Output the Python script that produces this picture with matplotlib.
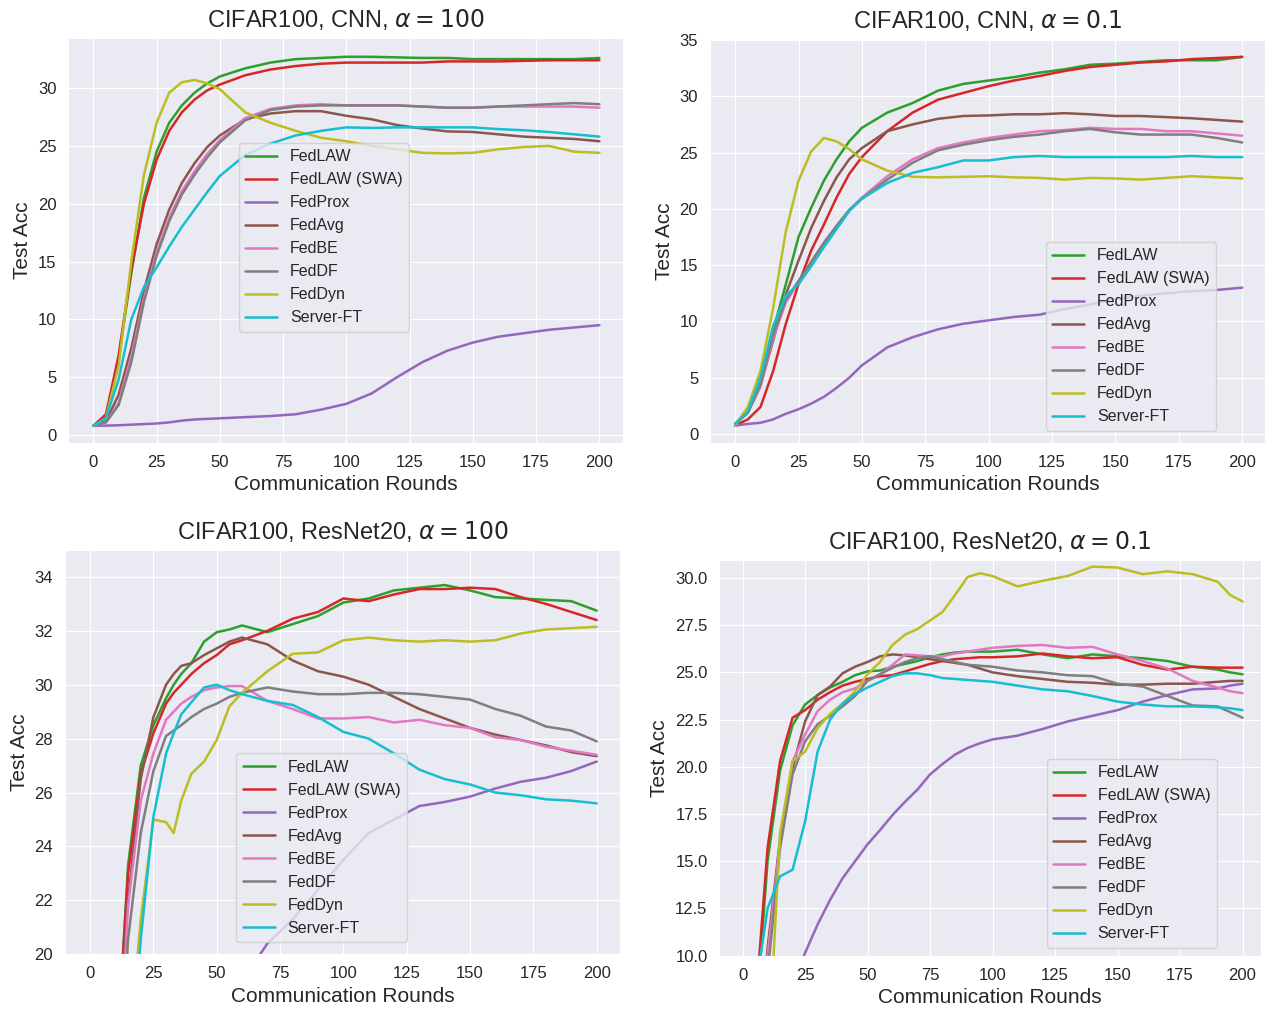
import matplotlib
matplotlib.use("Agg")
from matplotlib import pyplot as plt
import numpy as np
import seaborn as sns

sns.set_style("darkgrid")
plt.rcParams["font.family"] = ["Liberation Sans", "DejaVu Sans"]

METHODS = ["FedLAW", "FedLAW (SWA)", "FedProx", "FedAvg",
           "FedBE", "FedDF", "FedDyn", "Server-FT"]
COLORS = ["tab:green", "tab:red", "tab:purple", "tab:brown",
          "tab:pink", "tab:gray", "tab:olive", "tab:cyan"]

# CIFAR100, CNN, alpha = 100
rounds_cnn_100 = [0, 5, 10, 15, 20, 25, 30, 35, 40, 45, 50, 60, 70, 80, 90,
                  100, 110, 120, 130, 140, 150, 160, 170, 180, 190, 200]
fedlaw_cnn_100 = [0.8, 1.7, 6.6, 14.0, 20.5, 24.5, 27.0, 28.5, 29.6, 30.4, 31.0, 31.7, 32.2,
                  32.5, 32.6, 32.7, 32.7, 32.65, 32.6, 32.6, 32.5, 32.5, 32.5, 32.5, 32.5, 32.6]
swa_cnn_100 = [0.8, 1.8, 6.9, 14.3, 20.0, 23.8, 26.3, 27.9, 29.0, 29.8, 30.3, 31.1, 31.6,
               31.9, 32.1, 32.2, 32.2, 32.2, 32.2, 32.3, 32.3, 32.3, 32.35, 32.4, 32.4, 32.4]
prox_cnn_100 = [0.8, 0.82, 0.85, 0.9, 0.95, 1.0, 1.1, 1.25, 1.35, 1.4, 1.45, 1.55, 1.65,
                1.8, 2.2, 2.7, 3.6, 5.0, 6.3, 7.3, 8.0, 8.5, 8.8, 9.1, 9.3, 9.5]
avg_cnn_100 = [0.8, 1.2, 3.5, 7.5, 12.5, 16.5, 19.5, 21.8, 23.5, 24.9, 25.9, 27.3, 27.8,
               28.0, 28.0, 27.6, 27.3, 26.8, 26.5, 26.25, 26.2, 26.0, 25.8, 25.7, 25.6, 25.4]
be_cnn_100 = [0.8, 1.1, 2.8, 6.8, 11.8, 15.8, 18.8, 21.1, 22.8, 24.3, 25.5, 27.4, 28.2,
              28.5, 28.6, 28.5, 28.5, 28.5, 28.4, 28.3, 28.3, 28.4, 28.4, 28.4, 28.4, 28.3]
df_cnn_100 = [0.8, 1.1, 2.6, 6.3, 11.5, 15.5, 18.5, 20.8, 22.5, 24.0, 25.3, 27.2, 28.1,
              28.4, 28.5, 28.5, 28.5, 28.5, 28.4, 28.3, 28.3, 28.4, 28.5, 28.6, 28.7, 28.6]
dyn_cnn_100 = [0.8, 1.5, 6.0, 15.0, 22.5, 27.0, 29.6, 30.5, 30.7, 30.4, 29.9, 27.9, 27.0,
               26.3, 25.7, 25.4, 25.0, 24.7, 24.4, 24.35, 24.4, 24.7, 24.9, 25.0, 24.5, 24.4]
ft_cnn_100 = [0.8, 1.5, 4.8, 10.0, 12.8, 14.5, 16.3, 18.0, 19.5, 21.0, 22.4, 24.2, 25.2,
              25.9, 26.3, 26.6, 26.55, 26.6, 26.6, 26.6, 26.6, 26.45, 26.35, 26.2, 26.0, 25.8]

# CIFAR100, CNN, alpha = 0.1
rounds_cnn_01 = [0, 5, 10, 15, 20, 25, 30, 35, 40, 45, 50, 60, 70, 80, 90,
                 100, 110, 120, 130, 140, 150, 160, 170, 180, 190, 200]
fedlaw_cnn_01 = [0.9, 1.9, 4.4, 9.2, 13.3, 17.5, 20.1, 22.5, 24.4, 26.0, 27.2, 28.55, 29.4,
                 30.5, 31.1, 31.4, 31.7, 32.1, 32.4, 32.8, 32.9, 33.05, 33.2, 33.2, 33.2, 33.5]
swa_cnn_01 = [0.75, 1.3, 2.4, 5.6, 9.8, 13.3, 16.3, 18.6, 21.0, 23.1, 24.6, 26.9, 28.55,
              29.7, 30.3, 30.9, 31.4, 31.8, 32.25, 32.6, 32.8, 33.0, 33.1, 33.3, 33.4, 33.5]
prox_cnn_01 = [0.75, 0.9, 1.0, 1.3, 1.8, 2.2, 2.7, 3.3, 4.1, 5.0, 6.1, 7.7, 8.6,
               9.3, 9.8, 10.1, 10.4, 10.6, 11.1, 11.5, 12.0, 12.3, 12.5, 12.7, 12.8, 13.0]
avg_cnn_01 = [0.75, 2.1, 4.4, 8.3, 12.4, 15.4, 18.3, 20.7, 22.8, 24.4, 25.4, 26.9, 27.5,
              28.0, 28.25, 28.3, 28.4, 28.4, 28.5, 28.4, 28.25, 28.25, 28.15, 28.05, 27.9, 27.75]
be_cnn_01 = [0.9, 1.9, 4.2, 8.5, 11.7, 13.5, 15.2, 16.9, 18.4, 19.9, 21.0, 22.9, 24.4,
             25.4, 25.9, 26.3, 26.6, 26.9, 27.0, 27.2, 27.1, 27.1, 26.9, 26.9, 26.7, 26.5]
df_cnn_01 = [0.9, 1.9, 4.4, 8.8, 11.9, 13.6, 15.3, 17.0, 18.5, 19.9, 20.9, 22.6, 24.1,
             25.2, 25.7, 26.1, 26.4, 26.6, 26.9, 27.1, 26.8, 26.6, 26.6, 26.6, 26.3, 25.9]
dyn_cnn_01 = [0.75, 2.4, 5.6, 11.2, 18.0, 22.5, 25.1, 26.3, 26.0, 25.3, 24.4, 23.4, 22.85,
              22.8, 22.85, 22.9, 22.8, 22.75, 22.6, 22.75, 22.7, 22.6, 22.75, 22.9, 22.8, 22.7]
ft_cnn_01 = [0.9, 2.0, 5.0, 9.6, 12.3, 13.3, 14.9, 16.6, 18.2, 19.8, 20.9, 22.3, 23.2,
             23.7, 24.3, 24.3, 24.6, 24.7, 24.6, 24.6, 24.6, 24.6, 24.6, 24.7, 24.6, 24.6]

# CIFAR100, ResNet20, alpha = 100
rounds_res_100 = [0, 5, 10, 15, 20, 25, 30, 33, 36, 40, 45, 50, 55, 60, 70, 80, 90,
                  100, 110, 120, 130, 140, 150, 160, 170, 180, 190, 200]
fedlaw_res_100 = [1.0, 5.0, 15.0, 23.3, 27.0, 28.5, 29.5, 30.0, 30.4, 30.8, 31.6, 31.95, 32.05,
                  32.2, 31.95, 32.25, 32.55, 33.05, 33.2, 33.5, 33.6, 33.7, 33.5, 33.25, 33.2,
                  33.15, 33.1, 32.75]
swa_res_100 = [1.0, 5.0, 15.5, 23.0, 26.7, 28.2, 29.3, 29.7, 30.0, 30.4, 30.8, 31.1, 31.5,
               31.65, 32.0, 32.45, 32.7, 33.2, 33.1, 33.35, 33.55, 33.55, 33.6, 33.55, 33.25,
               33.0, 32.7, 32.4]
prox_res_100 = [1.0, 3.0, 5.0, 7.0, 9.0, 10.5, 12.0, 12.8, 13.6, 14.8, 16.0, 17.0, 18.0,
                19.0, 20.4, 21.3, 22.4, 23.5, 24.5, 25.0, 25.5, 25.65, 25.85, 26.15, 26.4,
                26.55, 26.8, 27.15]
avg_res_100 = [1.0, 5.5, 15.5, 22.0, 26.5, 28.8, 30.0, 30.4, 30.7, 30.8, 31.1, 31.35, 31.6,
               31.75, 31.5, 30.9, 30.5, 30.3, 30.0, 29.55, 29.1, 28.75, 28.4, 28.15, 27.95,
               27.75, 27.5, 27.35]
be_res_100 = [1.0, 5.0, 13.5, 21.8, 25.7, 27.45, 28.7, 29.0, 29.3, 29.55, 29.8, 29.9, 29.95,
              29.95, 29.4, 29.1, 28.75, 28.75, 28.8, 28.6, 28.7, 28.5, 28.4, 28.05, 27.95,
              27.7, 27.55, 27.4]
df_res_100 = [1.0, 4.5, 12.5, 20.55, 24.5, 26.8, 28.1, 28.3, 28.5, 28.8, 29.1, 29.3, 29.55,
              29.7, 29.9, 29.75, 29.65, 29.65, 29.7, 29.7, 29.65, 29.55, 29.45, 29.1, 28.85,
              28.45, 28.3, 27.9]
dyn_res_100 = [1.0, 3.0, 8.0, 16.0, 21.3, 25.0, 24.9, 24.5, 25.7, 26.7, 27.15, 27.95, 29.2,
               29.7, 30.5, 31.15, 31.2, 31.65, 31.75, 31.65, 31.6, 31.65, 31.6, 31.65, 31.9,
               32.05, 32.1, 32.15]
ft_res_100 = [1.0, 2.5, 6.0, 14.0, 20.55, 25.1, 27.45, 28.2, 28.9, 29.35, 29.9, 30.0, 29.8,
              29.65, 29.4, 29.25, 28.8, 28.25, 28.0, 27.45, 26.85, 26.5, 26.3, 26.0, 25.9,
              25.75, 25.7, 25.6]

# CIFAR100, ResNet20, alpha = 0.1
rounds_res_01 = [0, 5, 10, 15, 20, 25, 30, 35, 40, 45, 50, 55, 60, 65, 70, 75, 80, 85, 90,
                 95, 100, 110, 120, 130, 140, 150, 160, 170, 180, 190, 195, 200]
fedlaw_res_01 = [1.0, 6.0, 15.0, 19.8, 22.2, 23.3, 23.8, 24.2, 24.5, 24.85, 25.05, 25.1, 25.3,
                 25.45, 25.6, 25.8, 25.95, 26.05, 26.1, 26.1, 26.1, 26.2, 25.95, 25.75, 25.95,
                 25.85, 25.75, 25.6, 25.3, 25.15, 25.0, 24.9]
swa_res_01 = [1.0, 7.0, 15.7, 20.3, 22.6, 23.0, 23.55, 23.95, 24.3, 24.5, 24.65, 24.8, 24.85,
              25.05, 25.25, 25.45, 25.6, 25.7, 25.75, 25.8, 25.8, 25.85, 26.0, 25.85, 25.75,
              25.8, 25.4, 25.15, 25.3, 25.25, 25.25, 25.25]
prox_res_01 = [1.0, 2.5, 4.5, 6.0, 8.5, 10.15, 11.65, 12.95, 14.1, 15.0, 15.9, 16.65, 17.45,
               18.15, 18.8, 19.6, 20.15, 20.65, 21.0, 21.25, 21.45, 21.65, 22.0, 22.4, 22.7,
               23.0, 23.45, 23.8, 24.1, 24.15, 24.3, 24.4]
avg_res_01 = [1.0, 3.0, 10.4, 16.2, 19.95, 22.4, 23.8, 24.25, 24.95, 25.3, 25.55, 25.85, 25.95,
              25.9, 25.8, 25.7, 25.6, 25.5, 25.4, 25.2, 25.0, 24.8, 24.65, 24.5, 24.45, 24.35,
              24.35, 24.4, 24.4, 24.5, 24.55, 24.55]
be_res_01 = [1.0, 3.0, 10.0, 16.05, 20.3, 21.7, 22.95, 23.55, 23.95, 24.15, 24.55, 24.9, 25.4,
             25.95, 25.9, 25.85, 25.85, 26.0, 26.1, 26.2, 26.3, 26.4, 26.45, 26.3, 26.35, 25.95,
             25.6, 25.2, 24.55, 24.2, 24.0, 23.9]
df_res_01 = [1.0, 2.5, 9.0, 15.7, 19.6, 21.35, 22.25, 22.7, 23.2, 23.75, 24.55, 24.9, 25.25,
             25.55, 25.75, 25.85, 25.7, 25.55, 25.4, 25.35, 25.3, 25.1, 25.0, 24.85, 24.8, 24.4,
             24.25, 23.75, 23.25, 23.2, 22.9, 22.6]
dyn_res_01 = [1.0, 2.0, 4.0, 16.5, 20.3, 20.8, 22.05, 22.8, 23.35, 24.0, 24.9, 25.55, 26.45,
              27.0, 27.3, 27.75, 28.2, 29.1, 30.05, 30.25, 30.1, 29.55, 29.85, 30.1, 30.6, 30.55,
              30.2, 30.35, 30.2, 29.8, 29.1, 28.75]
ft_res_01 = [1.0, 8.0, 12.5, 14.2, 14.55, 17.1, 20.8, 22.5, 23.35, 23.85, 24.2, 24.5, 24.8,
             24.95, 24.95, 24.85, 24.7, 24.65, 24.6, 24.55, 24.5, 24.3, 24.1, 24.0, 23.75, 23.45,
             23.3, 23.2, 23.2, 23.15, 23.1, 23.0]

panels = [
    {"title": r"CIFAR100, CNN, $\alpha = 100$",
     "rounds": rounds_cnn_100,
     "series": [fedlaw_cnn_100, swa_cnn_100, prox_cnn_100, avg_cnn_100,
                be_cnn_100, df_cnn_100, dyn_cnn_100, ft_cnn_100],
     "rect": [0.0537, 0.5621, 0.4358, 0.4006],
     "xlim": (-9.9, 209.2), "ylim": (-0.66, 34.35),
     "yticks": np.arange(0, 31, 5), "legend": (0.308, 0.74)},
    {"title": r"CIFAR100, CNN, $\alpha = 0.1$",
     "rounds": rounds_cnn_01,
     "series": [fedlaw_cnn_01, swa_cnn_01, prox_cnn_01, avg_cnn_01,
                be_cnn_01, df_cnn_01, dyn_cnn_01, ft_cnn_01],
     "rect": [0.5582, 0.5621, 0.4363, 0.3990],
     "xlim": (-9.9, 209.0), "ylim": (-0.77, 35.06),
     "yticks": np.arange(0, 36, 5), "legend": (0.605, 0.498)},
    {"title": r"CIFAR100, ResNet20, $\alpha = 100$",
     "rounds": rounds_res_100,
     "series": [fedlaw_res_100, swa_res_100, prox_res_100, avg_res_100,
                be_res_100, df_res_100, dyn_res_100, ft_res_100],
     "rect": [0.0511, 0.0561, 0.4363, 0.3999],
     "xlim": (-9.9, 209.2), "ylim": (20, 35.0),
     "yticks": np.arange(20, 35, 2), "legend": (0.309, 0.497)},
    {"title": r"CIFAR100, ResNet20, $\alpha = 0.1$",
     "rounds": rounds_res_01,
     "series": [fedlaw_res_01, swa_res_01, prox_res_01, avg_res_01,
                be_res_01, df_res_01, dyn_res_01, ft_res_01],
     "rect": [0.5655, 0.0547, 0.4259, 0.3914],
     "xlim": (-9.3, 207.4), "ylim": (10, 30.95),
     "yticks": np.arange(10, 30.1, 2.5), "legend": (0.604, 0.497)},
]

fig = plt.figure(figsize=(12.72, 10.11), dpi=100)

for panel in panels:
    ax = fig.add_axes(panel["rect"])
    for name, color, values in zip(METHODS, COLORS, panel["series"]):
        ax.plot(panel["rounds"], values, color=color, linewidth=1.8, label=name)

    ax.set_xlim(*panel["xlim"])
    ax.set_ylim(*panel["ylim"])
    ax.set_xticks(np.arange(0, 201, 25))
    ax.set_yticks(panel["yticks"])
    ax.tick_params(labelsize=12, pad=5)
    ax.set_title(panel["title"], fontsize=17, pad=8)
    ax.set_xlabel("Communication Rounds", fontsize=15)
    ax.set_ylabel("Test Acc", fontsize=15)
    ax.legend(loc="upper left", bbox_to_anchor=panel["legend"],
              borderaxespad=0, fontsize=11.5)

fig.savefig("out.png", dpi=100)
